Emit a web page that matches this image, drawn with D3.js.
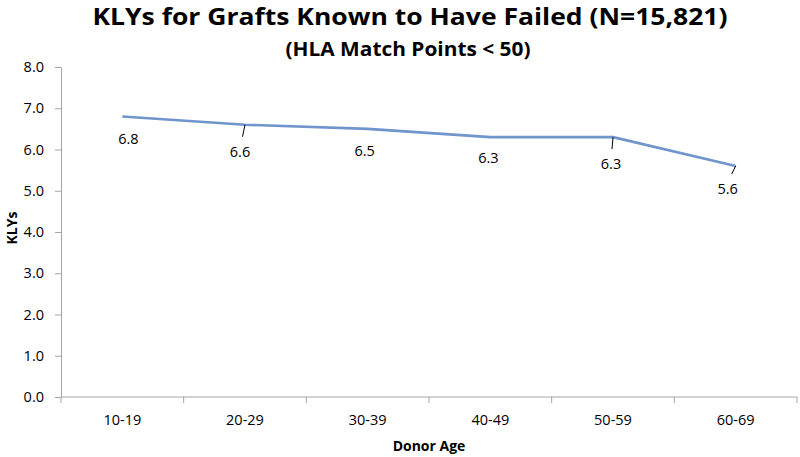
<!DOCTYPE html>
<html>
<head>
<meta charset="utf-8">
<script src="https://cdn.jsdelivr.net/npm/d3@7"></script>
<style>
    body { margin: 0; background: #fff; }
    svg { display: block; }
    text { font-family: "Open Sans", "Noto Sans", sans-serif; fill: #000; }
</style>
</head>
<body>
<svg id="chart" width="800" height="457"></svg>
<script>
const ageGroups = ["10-19", "20-29", "30-39", "40-49", "50-59", "60-69"];
const klys = [6.8, 6.6, 6.5, 6.3, 6.3, 5.6];
const yTicks = [0, 1, 2, 3, 4, 5, 6, 7, 8];

// nudges for data labels (dx, dy) and whether a leader line is drawn
const labelNudge = [
    { dx: 6, dy: 22, leader: false },
    { dx: -5, dy: 27, leader: true },
    { dx: -3, dy: 22, leader: false },
    { dx: -2, dy: 21, leader: false },
    { dx: -2, dy: 27, leader: true },
    { dx: -8, dy: 23, leader: true }
];

const svg = d3.select("#chart");
const plotLeft = 61, plotRight = 797, plotTop = 67, plotBottom = 397;

const x = d3.scaleBand()
    .domain(ageGroups)
    .range([plotLeft, plotRight])
    .padding(0);

const y = d3.scaleLinear()
    .domain([0, 8])
    .range([plotBottom, plotTop]);

const axisColor = "#a6a6a6";

// title
svg.append("text")
    .attr("x", 410)
    .attr("y", 25)
    .attr("text-anchor", "middle")
    .attr("font-size", 23)
    .attr("font-weight", "bold")
    .attr("textLength", 635)
    .attr("lengthAdjust", "spacingAndGlyphs")
    .text("KLYs for Grafts Known to Have Failed (N=15,821)");

svg.append("text")
    .attr("x", 408)
    .attr("y", 56)
    .attr("text-anchor", "middle")
    .attr("font-size", 19)
    .attr("font-weight", "bold")
    .attr("textLength", 245)
    .attr("lengthAdjust", "spacingAndGlyphs")
    .text("(HLA Match Points < 50)");

// y axis
const yAxis = d3.axisLeft(y)
    .tickValues(yTicks)
    .tickFormat(d3.format(".1f"))
    .tickSize(6)
    .tickSizeOuter(0)
    .tickPadding(11);

const yg = svg.append("g")
    .attr("transform", `translate(${plotLeft},0)`)
    .call(yAxis);
yg.select(".domain").attr("stroke", axisColor);
yg.selectAll(".tick line").attr("stroke", axisColor);
yg.selectAll(".tick text")
    .attr("font-size", 14.5)
    .attr("font-family", "'Open Sans', sans-serif")
    .attr("fill", "#000");

// x axis
const xAxis = d3.axisBottom(x)
    .tickSize(0)
    .tickPadding(18);

const xg = svg.append("g")
    .attr("transform", `translate(0,${plotBottom})`)
    .call(xAxis);
xg.select(".domain").attr("stroke", axisColor).attr("d", `M${plotLeft},0H${plotRight}`);
xg.selectAll(".tick text")
    .attr("font-size", 14.5)
    .attr("font-family", "'Open Sans', sans-serif")
    .attr("fill", "#000");

// category boundary ticks
const bounds = ageGroups.map(d => x(d)).concat([plotRight]);
xg.selectAll(".bound")
    .data(bounds)
    .join("line")
    .attr("class", "bound")
    .attr("x1", d => d)
    .attr("x2", d => d)
    .attr("y1", 0)
    .attr("y2", 6)
    .attr("stroke", axisColor);

// axis titles
svg.append("text")
    .attr("x", (plotLeft + plotRight) / 2)
    .attr("y", 451)
    .attr("text-anchor", "middle")
    .attr("font-size", 14)
    .attr("font-weight", "bold")
    .text("Donor Age");

svg.append("text")
    .attr("transform", `translate(17,228) rotate(-90)`)
    .attr("text-anchor", "middle")
    .attr("font-size", 14)
    .attr("font-weight", "bold")
    .text("KLYs");

// line
const cx = d => x(d) + x.bandwidth() / 2;
const line = d3.line()
    .x((d, i) => cx(ageGroups[i]))
    .y(d => y(d));

svg.append("path")
    .datum(klys)
    .attr("d", line)
    .attr("fill", "none")
    .attr("stroke", "#7094cc")
    .attr("stroke-width", 2.6)
    .attr("stroke-linejoin", "round");

// data labels
const labels = svg.append("g");
klys.forEach((v, i) => {
    const px = cx(ageGroups[i]);
    const py = y(v);
    const n = labelNudge[i];
    if (n.leader) {
        labels.append("line")
            .attr("x1", px)
            .attr("y1", py)
            .attr("x2", px + n.dx * 0.5)
            .attr("y2", py + n.dy - 15)
            .attr("stroke", "#000")
            .attr("stroke-width", 1);
    }
    labels.append("text")
        .attr("x", px + n.dx)
        .attr("y", py + n.dy)
        .attr("dy", "0.35em")
        .attr("text-anchor", "middle")
        .attr("font-size", 14.5)
        .text(d3.format(".1f")(v));
});
</script>
</body>
</html>
